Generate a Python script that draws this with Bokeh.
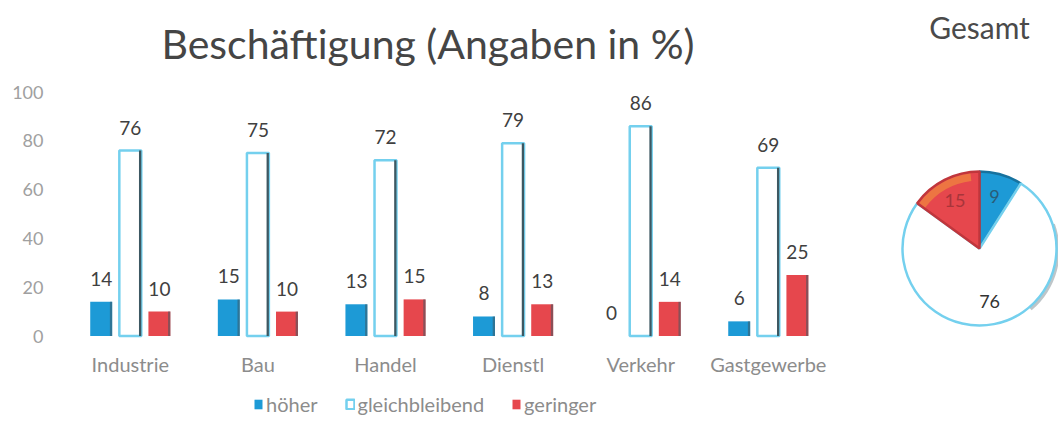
import math
from bokeh.plotting import figure
from bokeh.models import Range1d, FixedTicker, ColumnDataSource, Legend, LegendItem
from bokeh.embed import file_html
from bokeh.resources import INLINE
from bokeh.core.properties import value

# ---------------- data ----------------
categories = ["Industrie", "Bau", "Handel", "Dienstl", "Verkehr", "Gastgewerbe"]
hoeher = [14, 15, 13, 8, 0, 6]
gleichbleibend = [76, 75, 72, 79, 86, 69]
geringer = [10, 10, 15, 13, 14, 25]
series_names = ["höher", "gleichbleibend", "geringer"]
y_ticks = [0, 20, 40, 60, 80, 100]
pie_names = ["höher", "gleichbleibend", "geringer"]
pie_values = [9, 76, 15]

title_text = "Beschäftigung (Angaben in %)"
pie_title = "Gesamt"

BLUE = "#1d9ad6"
CYAN = "#74d0ee"
RED = "#e6474d"
RIM = "#3d5862"
FONT = "Lato"

# frame geometry (pixels per data unit) used for non-data placements
PX_X = 127.6
PX_Y = 2.44

xs = [i + 0.5 for i in range(len(categories))]
off = 0.228
bw = 0.172
rim = 0.018

src = ColumnDataSource(dict(
    x=xs,
    xh=[x - off for x in xs], xg=xs, xr=[x + off for x in xs],
    xh_rim=[x - off + bw / 2 - rim / 2 for x in xs],
    xg_rim=[x + bw / 2 - rim / 2 for x in xs],
    xr_rim=[x + off + bw / 2 - rim / 2 for x in xs],
    h=hoeher, g=gleichbleibend, r=geringer,
    hl=[str(v) for v in hoeher], gl=[str(v) for v in gleichbleibend], rl=[str(v) for v in geringer],
    cat=categories, ylab=[-(372 - 9 - 335.5) / PX_Y] * len(categories),
))

p = figure(x_range=Range1d(0, 992 / PX_X), y_range=Range1d(-85.5 / PX_Y, 335.5 / PX_Y),
           width=1058, height=421, x_axis_location=None,
           output_backend="svg", toolbar_location=None,
           min_border_left=66, min_border_right=0, min_border_top=0, min_border_bottom=0)
p.outline_line_color = None
p.xgrid.grid_line_color = None
p.ygrid.grid_line_color = None

r1 = p.vbar(x="xh", top="h", bottom=0, width=bw, source=src,
            fill_color=BLUE, line_color=None)
r2 = p.vbar(x="xg", top="g", bottom=0, width=bw, source=src,
            fill_color="white", line_color=CYAN, line_width=2.5)
r3 = p.vbar(x="xr", top="r", bottom=0, width=bw, source=src,
            fill_color=RED, line_color=None)
# darker right rims (3-D look)
for xr_col, top_col, alpha in (("xh_rim", "h", 0.55), ("xg_rim", "g", 1.0), ("xr_rim", "r", 0.55)):
    p.vbar(x=xr_col, top=top_col, bottom=0, width=rim, source=src,
           fill_color=RIM, fill_alpha=alpha, line_color=None)

for xc, ycol, lab in (("xh", "h", "hl"), ("xg", "g", "gl"), ("xr", "r", "rl")):
    p.text(x=xc, y=ycol, text=lab, source=src,
           text_align="center", text_baseline="alphabetic", y_offset=-23,
           text_font=value(FONT), text_font_size="19px", text_color="#404040")

# category labels
p.text(x="x", y="ylab", text="cat", source=src, text_align="center", text_baseline="alphabetic",
       text_font=value(FONT), text_font_size="20px", text_color="#8c8c8c")

p.yaxis.ticker = FixedTicker(ticks=y_ticks)
p.yaxis.axis_line_color = None
p.yaxis.major_tick_line_color = None
p.yaxis.minor_tick_line_color = None
p.yaxis.major_tick_out = 0
p.yaxis.major_label_standoff = 23
p.yaxis.major_label_text_font = FONT
p.yaxis.major_label_text_font_size = "18px"
p.yaxis.major_label_text_color = "#a0a0a0"

legend = Legend(items=[LegendItem(label=series_names[0], renderers=[r1]),
                       LegendItem(label=series_names[1], renderers=[r2]),
                       LegendItem(label=series_names[2], renderers=[r3])],
                orientation="horizontal", location=(187, 5),
                glyph_width=10, glyph_height=12, label_standoff=3, spacing=27,
                padding=0, margin=0, border_line_color=None, background_fill_alpha=0,
                label_text_font=FONT, label_text_font_size="20px", label_text_color="#8c8c8c")
p.add_layout(legend)

# titles
p.text(x=[(427.5 - 66) / PX_X], y=[(335.5 - 56 + 13) / PX_Y], text=[title_text],
       text_align="center", text_baseline="alphabetic",
       text_font=value(FONT), text_font_size="41px", text_color="#454545")
p.text(x=[(979 - 66) / PX_X], y=[(335.5 - 38 + 12) / PX_Y], text=[pie_title],
       text_align="center", text_baseline="alphabetic",
       text_font=value(FONT), text_font_size="30px", text_color="#4a4a4a")

# ---------------- pie ----------------
cx, cy, R = (979 - 66) / PX_X, (335.5 - 248) / PX_Y, 77 / PX_X
total = float(sum(pie_values))
starts, ends, mids = [], [], []
acc = 0.0
for v in pie_values:
    a_end = math.pi / 2 - 2 * math.pi * acc / total
    acc += v
    a_start = math.pi / 2 - 2 * math.pi * acc / total
    starts.append(a_start)
    ends.append(a_end)
    mids.append((a_start + a_end) / 2)

psrc = ColumnDataSource(dict(start=starts, end=ends, name=pie_names,
                             fill=[BLUE, "white", RED],
                             line=["#17729e", CYAN, "#c0363c"]))
# soft shadow on the right rim
p.annular_wedge(x=cx + 2 / PX_X, y=cy - 2 / PX_Y, inner_radius=R - 3 / PX_X, outer_radius=R + 1 / PX_X,
                start_angle=math.radians(-50), end_angle=math.radians(20),
                fill_color="#7d8c92", fill_alpha=0.5, line_color=None)
p.wedge(x=cx, y=cy, radius=R, start_angle="start", end_angle="end", source=psrc,
        fill_color="fill", line_color="line", line_width=2.5)
# orange sheen along the outer arc of the red slice
p.annular_wedge(x=cx, y=cy, inner_radius=R - 9 / PX_X, outer_radius=R - 1.5 / PX_X,
                start_angle=starts[2] + 0.12, end_angle=ends[2] - 0.02,
                fill_color="#f29a3a", fill_alpha=0.55, line_color=None)

lab_col = ["#2a5d78", "#333333", "#a8353a"]
lx = [cx + 0.7 * R * math.cos(m) for m in mids]
ly = [cy + 0.7 * R * PX_X / PX_Y * math.sin(m) for m in mids]
p.text(x=lx, y=ly, text=[str(v) for v in pie_values], text_align="center",
       text_baseline="middle", text_font=value(FONT), text_font_size="18px", text_color=lab_col)

open("out.html", "w").write(file_html(p, INLINE))
